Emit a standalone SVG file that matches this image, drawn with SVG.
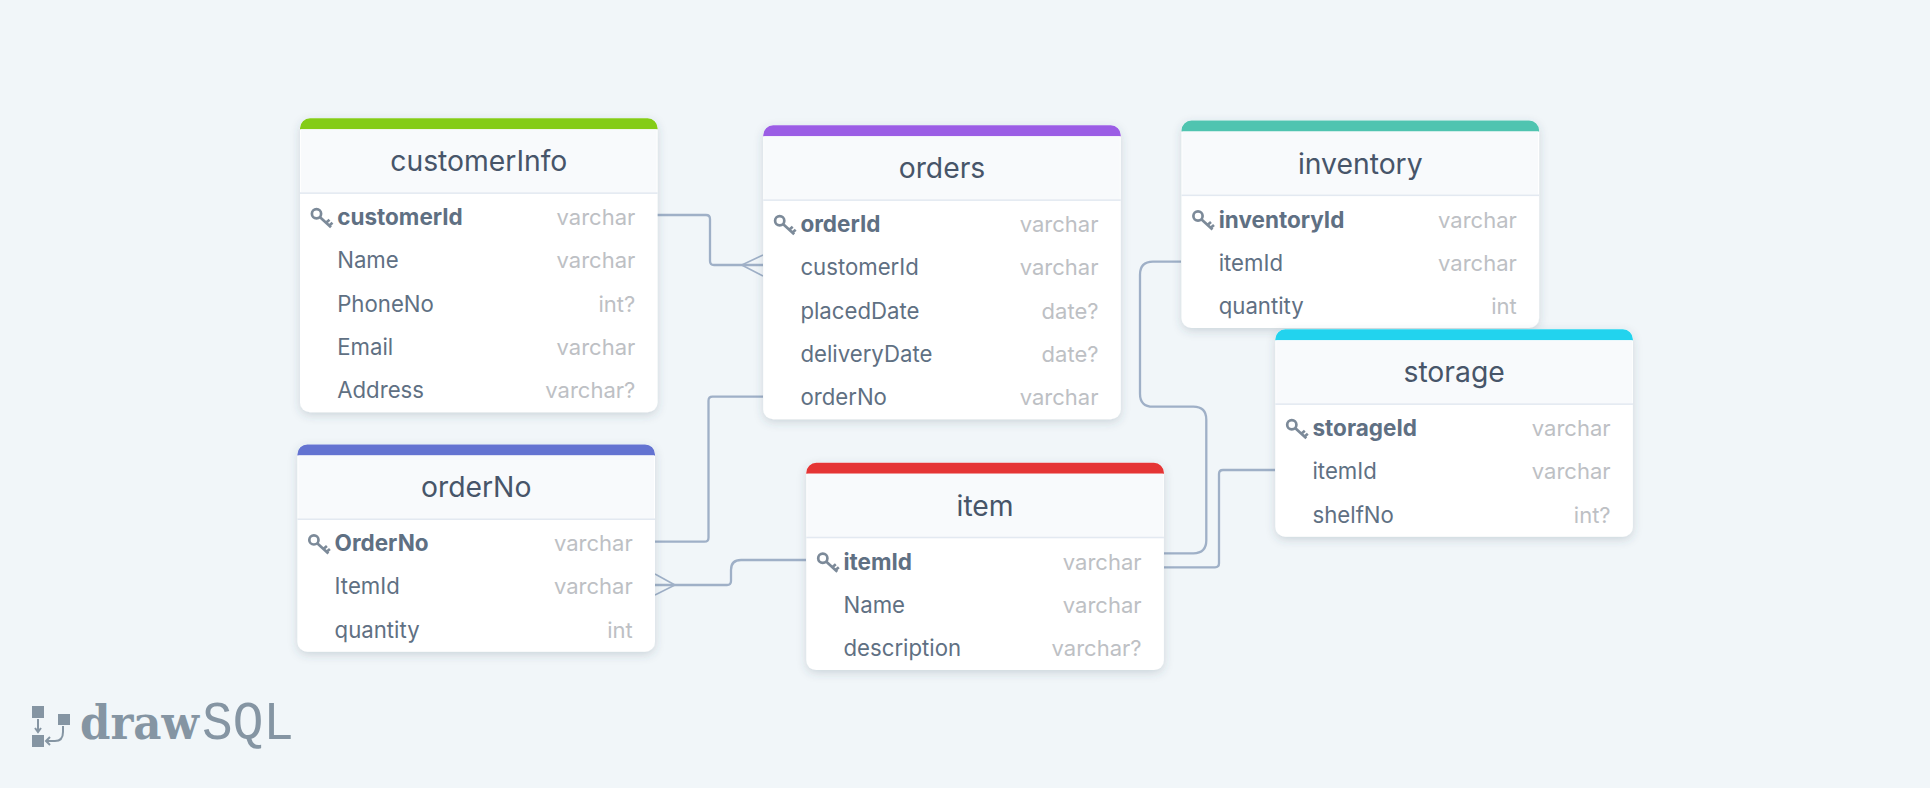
<svg xmlns="http://www.w3.org/2000/svg" xmlns:xlink="http://www.w3.org/1999/xlink" width="1930" height="788" viewBox="0 0 1930 788">
<style>
text{font-family:Inter,"Noto Sans","Liberation Sans",sans-serif}
.card{fill:#fff}
.head{fill:#f8fafc}
.div{fill:#e3e9f1}
.title{font-size:28.3px;fill:#475569;text-anchor:middle}
.n{font-size:22.2px;fill:#5f7083}
.k{font-weight:700;font-size:22.5px;fill:#5f7083}
.t{font-size:22px;fill:#bdc0c4;text-anchor:end}
.conn{fill:none;stroke:#9fb0c7;stroke-width:2.3}
.conn2{fill:none;stroke:#9fb0c7;stroke-width:1.6}
.kk{fill:none;stroke:#7c8a99;stroke-width:2.7}
.logo{fill:#8595a3}
.logol{fill:none;stroke:#8595a3;stroke-width:2}
</style>
<defs>
<filter id="sh" x="-10%" y="-10%" width="120%" height="125%"><feDropShadow dx="0" dy="3" stdDeviation="5" flood-color="#3c5064" flood-opacity="0.2"/></filter>
<path id="bar" d="M0 11V10A10 10 0 0 1 10 0H347.6A10 10 0 0 1 357.6 10V11Z"/>
<rect id="h" x="1" y="11" width="355.6" height="63"/>
<rect id="d" x="0" y="74" width="357.6" height="1.6"/>
<g id="key"><circle cx="5.5" cy="5.5" r="4.6"/><path d="M8.8 8.8L20 19M15 14.5L18.5 11.5M18 17.5L21.5 14.5"/></g>
</defs>
<rect width="1930" height="788" fill="#f1f6f9"/>
<g id="connectors">
<path class="conn" d="M657 215H706Q710 215 710 219V261Q710 265 714 265H763"/>
<path class="conn2" d="M763 255L741.7 265L763 276"/>
<path class="conn" d="M655 541.7H704.5Q708.5 541.7 708.5 537.7V400.7Q708.5 396.7 712.5 396.7H763"/>
<path class="conn" d="M655 585H727Q731 585 731 581V570Q731 560 741 560H806"/>
<path class="conn2" d="M655 574L675 585L655 595"/>
<path class="conn" d="M1164 553.3H1193.3Q1206.3 553.3 1206.3 540.3V419.7Q1206.3 406.7 1193.3 406.7H1153Q1140 406.7 1140 393.7V274.7Q1140 261.7 1153 261.7H1181"/>
<path class="conn" d="M1164 567.3H1215Q1219 567.3 1219 563.3V474Q1219 470 1223 470H1275"/>
</g>
<g id="customerInfo" transform="translate(300 118.3)">
<rect class="card" width="357.6" height="294" rx="10" filter="url(#sh)"/>
<use href="#bar" fill="#84cc16"/><use href="#h" class="head"/><use href="#d" class="div"/>
<text class="title" x="178.8" y="53">customerInfo</text>
<use href="#key" class="kk" x="11" y="90"/>
<text class="n k" x="37.2" y="107">customerId</text><text class="t" x="335.3" y="107">varchar</text>
<text class="n" x="37.2" y="150">Name</text><text class="t" x="335.3" y="150">varchar</text>
<text class="n" x="37.2" y="193.5">PhoneNo</text><text class="t" x="335.3" y="193.5">int?</text>
<text class="n" x="37.2" y="236.8">Email</text><text class="t" x="335.3" y="236.8">varchar</text>
<text class="n" x="37.2" y="280">Address</text><text class="t" x="335.3" y="280">varchar?</text>
</g>
<g id="orders" transform="translate(763.2 125.3)">
<rect class="card" width="357.6" height="294" rx="10" filter="url(#sh)"/>
<use href="#bar" fill="#9b5de5"/><use href="#h" class="head"/><use href="#d" class="div"/>
<text class="title" x="178.8" y="53">orders</text>
<use href="#key" class="kk" x="11" y="90"/>
<text class="n k" x="37.2" y="107">orderId</text><text class="t" x="335.3" y="107">varchar</text>
<text class="n" x="37.2" y="150">customerId</text><text class="t" x="335.3" y="150">varchar</text>
<text class="n" x="37.2" y="193.5">placedDate</text><text class="t" x="335.3" y="193.5">date?</text>
<text class="n" x="37.2" y="236.8">deliveryDate</text><text class="t" x="335.3" y="236.8">date?</text>
<text class="n" x="37.2" y="280">orderNo</text><text class="t" x="335.3" y="280">varchar</text>
</g>
<g id="inventory" transform="translate(1181.5 120.5)">
<rect class="card" width="357.6" height="207.4" rx="10" filter="url(#sh)"/>
<use href="#bar" fill="#4fc4b0"/><use href="#h" class="head"/><use href="#d" class="div"/>
<text class="title" x="178.8" y="53">inventory</text>
<use href="#key" class="kk" x="11" y="90"/>
<text class="n k" x="37.2" y="107">inventoryId</text><text class="t" x="335.3" y="107">varchar</text>
<text class="n" x="37.2" y="150">itemId</text><text class="t" x="335.3" y="150">varchar</text>
<text class="n" x="37.2" y="193.5">quantity</text><text class="t" x="335.3" y="193.5">int</text>
</g>
<g id="storage" transform="translate(1275.3 329.3)">
<rect class="card" width="357.6" height="207.4" rx="10" filter="url(#sh)"/>
<use href="#bar" fill="#22d3ee"/><use href="#h" class="head"/><use href="#d" class="div"/>
<text class="title" x="178.8" y="53">storage</text>
<use href="#key" class="kk" x="11" y="90"/>
<text class="n k" x="37.2" y="107">storageId</text><text class="t" x="335.3" y="107">varchar</text>
<text class="n" x="37.2" y="150">itemId</text><text class="t" x="335.3" y="150">varchar</text>
<text class="n" x="37.2" y="193.5">shelfNo</text><text class="t" x="335.3" y="193.5">int?</text>
</g>
<g id="orderNo" transform="translate(297.4 444.4)">
<rect class="card" width="357.6" height="207.4" rx="10" filter="url(#sh)"/>
<use href="#bar" fill="#6373d1"/><use href="#h" class="head"/><use href="#d" class="div"/>
<text class="title" x="178.8" y="53">orderNo</text>
<use href="#key" class="kk" x="11" y="90"/>
<text class="n k" x="37.2" y="107">OrderNo</text><text class="t" x="335.3" y="107">varchar</text>
<text class="n" x="37.2" y="150">ItemId</text><text class="t" x="335.3" y="150">varchar</text>
<text class="n" x="37.2" y="193.5">quantity</text><text class="t" x="335.3" y="193.5">int</text>
</g>
<g id="item" transform="translate(806.3 462.7)">
<rect class="card" width="357.6" height="207.4" rx="10" filter="url(#sh)"/>
<use href="#bar" fill="#e53535"/><use href="#h" class="head"/><use href="#d" class="div"/>
<text class="title" x="178.8" y="53">item</text>
<use href="#key" class="kk" x="11" y="90"/>
<text class="n k" x="37.2" y="107">itemId</text><text class="t" x="335.3" y="107">varchar</text>
<text class="n" x="37.2" y="150">Name</text><text class="t" x="335.3" y="150">varchar</text>
<text class="n" x="37.2" y="193.5">description</text><text class="t" x="335.3" y="193.5">varchar?</text>
</g>
<g id="logo">
<rect class="logo" x="32" y="706" width="12" height="12"/>
<rect class="logo" x="32" y="735" width="12" height="12"/>
<rect class="logo" x="58" y="714" width="12" height="11"/>
<path class="logol" d="M38 719V731M35 728L38 732L41 728M63 726V732Q63 741 55 741H47M50 737L46 741L50 745"/>
<text x="80" y="739" font-size="46" font-weight="900" style="font-family:'DejaVu Serif',serif" fill="#8595a3" textLength="119" lengthAdjust="spacingAndGlyphs">draw</text>
<text x="202" y="739" font-size="54" style="font-family:'Liberation Mono',monospace" fill="#8595a3" textLength="92" lengthAdjust="spacingAndGlyphs">SQL</text>
</g>
</svg>
